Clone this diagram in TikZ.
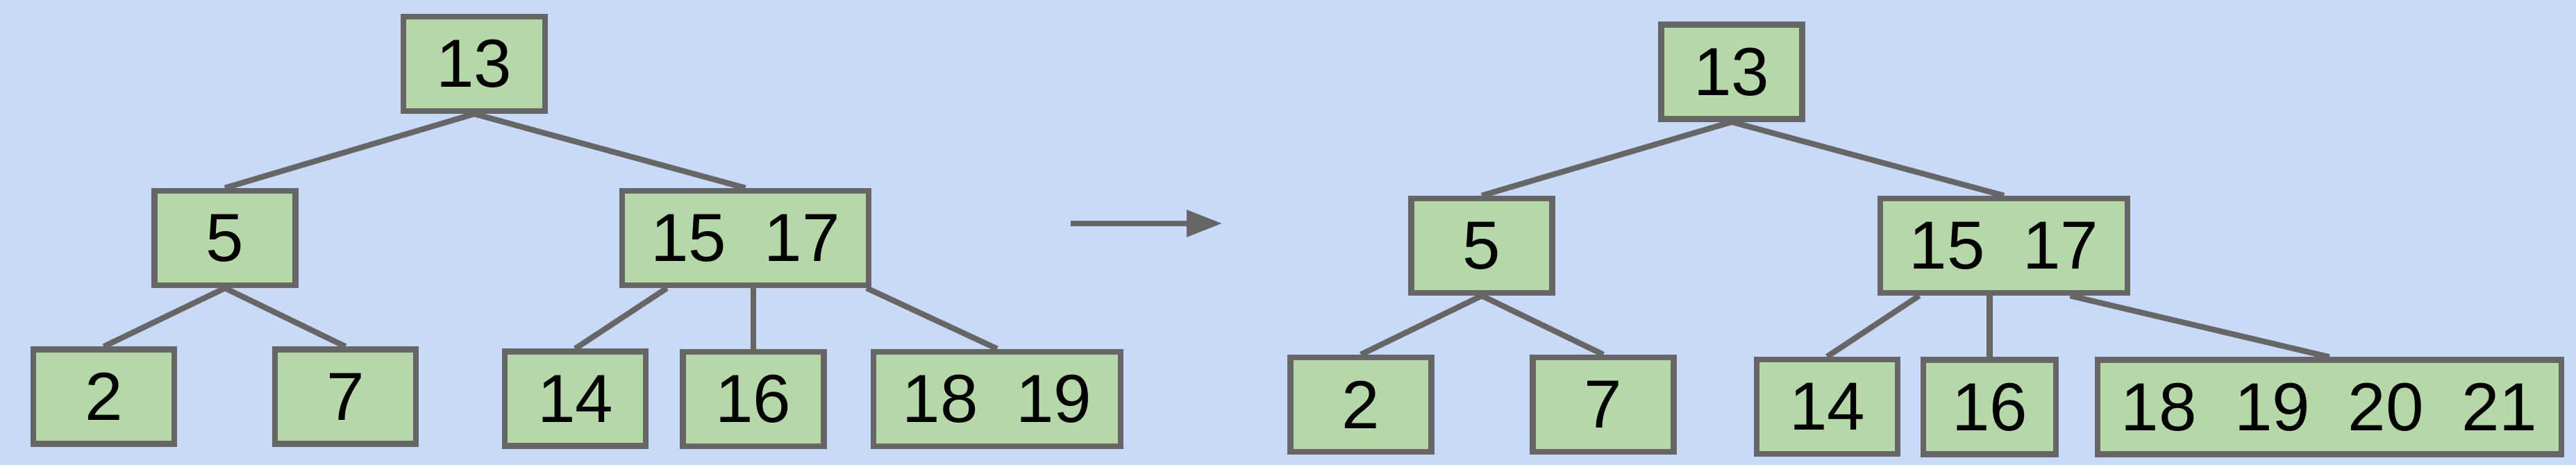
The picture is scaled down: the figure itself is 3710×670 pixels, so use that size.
\documentclass[tikz,border=0pt]{standalone}
\usepackage{fontspec}
\setmainfont{Liberation Sans}
\usetikzlibrary{arrows.meta,backgrounds}
\definecolor{bgblue}{HTML}{C9DAF8}
\definecolor{boxgreen}{HTML}{B6D7A8}
\definecolor{linegray}{HTML}{666666}
\tikzset{
  key/.style={draw=linegray, fill=boxgreen, line width=0.83pt, inner sep=0pt,
    minimum width=20.3pt, minimum height=13.6pt, font=\fontsize{9.8}{11}\selectfont,
    text=black, line join=miter},
  edge/.style={draw=linegray, line width=0.82pt},
}
\newcommand{\gap}{\hspace{0.556em}}
\begin{document}
\begin{tikzpicture}[x=0.1pt, y=-0.1pt]
\useasboundingbox (0,0) rectangle (3710,670);
% left tree
\node[key, minimum width=20.4pt] (L13) at (683,92) {13};
\node[key] (L5) at (324,343) {5};
\node[key, minimum width=35.5pt] (L1517) at (1073.5,343) {15\gap17};
\node[key] (L2) at (149.5,571.5) {2};
\node[key] (L7) at (497.5,571.5) {7};
\node[key] (L14) at (828.5,574.5) {14};
\node[key] (L16) at (1085,574.7) {16};
\node[key, minimum width=35.6pt] (L1819) at (1436,574.7) {18\gap19};
% arrow
\coordinate (A1) at (1541.7,322);
\coordinate (A2) at (1760,322);
\draw[edge, line width=0.75pt, -{Triangle[length=5.1pt, width=3.75pt]}] (A1) -- (A2);
% right tree
\node[key] (R13) at (2494,103.6) {13};
\node[key] (R5) at (2134,354) {5};
\node[key, minimum width=35.6pt] (R1517) at (2886,354) {15\gap17};
\node[key] (R2) at (1960,583) {2};
\node[key] (R7) at (2309,583) {7};
\node[key] (R14) at (2631.5,586) {14};
\node[key, minimum width=19.1pt] (R16) at (2865.5,586.5) {16};
\node[key, minimum width=66.8pt] (R18) at (3354.7,586.5) {18\gap19\gap20\gap21};
\begin{scope}[on background layer]
\fill[bgblue] (0,0) rectangle (3710,670);
\draw[edge] (L13.south) -- (L5.north);
\draw[edge] (L13.south) -- (L1517.north);
\draw[edge] (L5.south) -- (L2.north);
\draw[edge] (L5.south) -- (L7.north);
\draw[edge] ([xshift=-11.3pt]L1517.south) -- (L14.north);
\draw[edge] (L1517.south -| L16.north) -- (L16.north);
\draw[edge] ([xshift=-0.7pt]L1517.south east) -- (L1819.north);
\draw[edge] (R13.south) -- (R5.north);
\draw[edge] (R13.south) -- (R1517.north);
\draw[edge] (R5.south) -- (R2.north);
\draw[edge] (R5.south) -- (R7.north);
\draw[edge] ([xshift=-12.2pt]R1517.south) -- (R14.north);
\draw[edge] (R1517.south -| R16.north) -- (R16.north);
\draw[edge] ([xshift=9.55pt]R1517.south) -- (R18.north);
\end{scope}
\end{tikzpicture}
\end{document}
